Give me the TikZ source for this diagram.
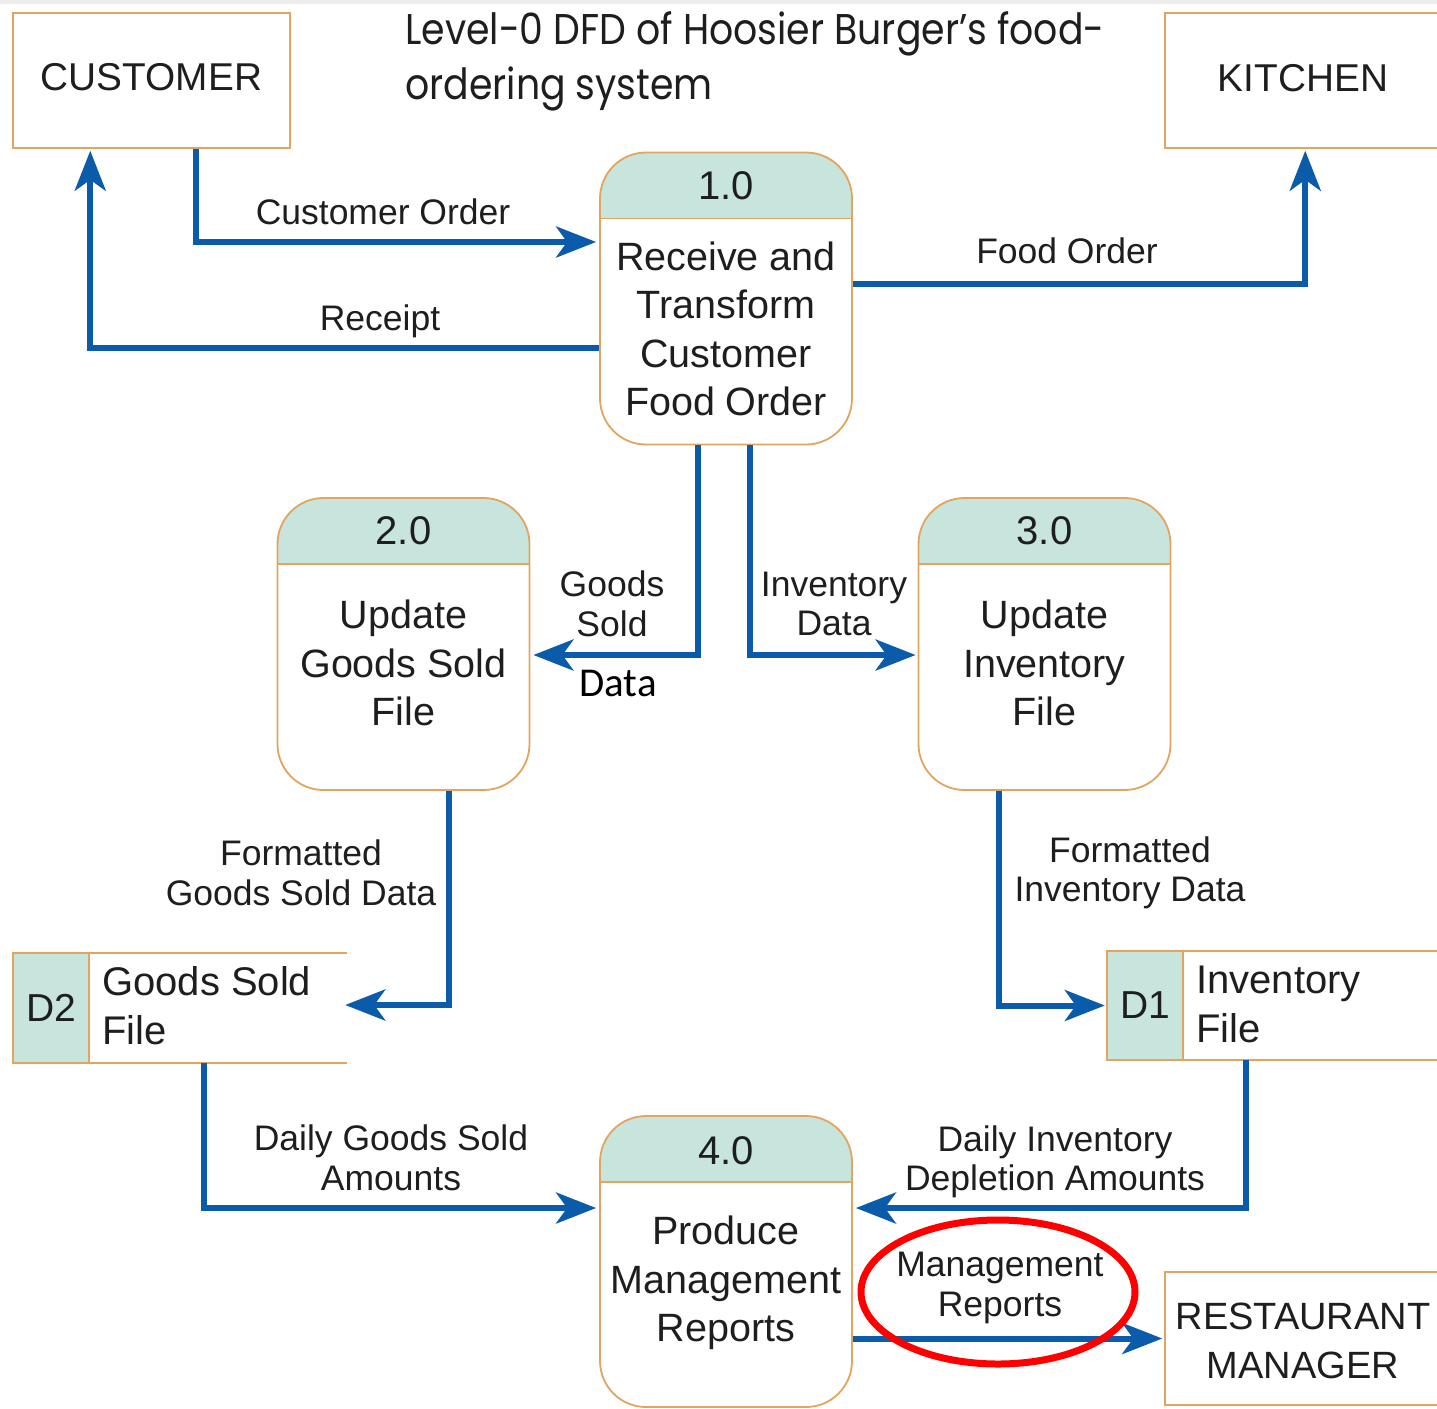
\documentclass[tikz,border=0pt]{standalone}
\usepackage{fontspec}
\setmainfont{Liberation Sans}
\newfontfamily\titlefont[FakeStretch=0.88]{Poppins}
\newfontfamily\calfont{Carlito}
\usetikzlibrary{arrows.meta}
\definecolor{fblue}{HTML}{0A5CAB}
\definecolor{obox}{HTML}{E2A45E}
\definecolor{hdr}{HTML}{C8E5DD}
\definecolor{txt}{HTML}{1E1E1E}
\definecolor{ered}{HTML}{FF0000}
\begin{document}
\begin{tikzpicture}[x=1pt,y=-1pt,
  ext/.style={draw=obox, line width=1.5pt, inner sep=0pt, text=txt, align=center,
    font=\fontsize{38}{49}\selectfont},
  proc/.style={draw=obox, line width=1.8pt, rounded corners=46pt, minimum width=252pt,
    minimum height=292pt, inner sep=0pt,
    path picture={\fill[hdr, sharp corners] (path picture bounding box.north west) rectangle
      ([yshift=-66pt]path picture bounding box.north east);
      \draw[obox, line width=1.8pt, sharp corners] ([yshift=-66pt]path picture bounding box.north west)
      -- ([yshift=-66pt]path picture bounding box.north east);}},
  num/.style={inner sep=0pt, text=txt, font=\fontsize{40}{44}\selectfont},
  ptext/.style={inner sep=0pt, text=txt, align=center, font=\fontsize{39.5}{48.5}\selectfont},
  lab/.style={inner sep=0pt, text=txt, align=center, font=\fontsize{35.5}{39.5}\selectfont},
  storetext/.style={inner sep=0pt, text=txt, align=left, anchor=west, font=\fontsize{40}{49}\selectfont},
  storeid/.style={draw=obox, fill=hdr, line width=1.5pt, inner sep=0pt, text=txt,
    minimum width=76pt, minimum height=110pt, font=\fontsize{39}{46}\selectfont},
  flow/.style={draw=fblue, line width=6pt, -{Stealth[length=40pt,width=31pt,inset=11pt]}}
]
\useasboundingbox (0,0) rectangle (1437,1408);
\fill[black!7] (0,0) rectangle (1437,4);

% title
\node[inner sep=0pt, anchor=north west, align=left, text=txt,
  font=\titlefont\fontsize{43}{55}\selectfont] (title) at (405,11)
  {Level-0 DFD of Hoosier Burger’s food-\\ordering system};

% external entities
\node[ext, minimum width=277pt, minimum height=135pt] (cust) at (151.5,80.5) {};
\node[ext, minimum width=275pt, minimum height=135pt] (kitchen) at (1302.5,80.5) {};
\node[ext, minimum width=275pt, minimum height=133pt] (mgr) at (1302.5,1338.5) {};
\node[inner sep=0pt, text=txt, font=\fontsize{38.8}{46}\selectfont] (custt) at (151.5,77) {CUSTOMER};
\node[inner sep=0pt, text=txt, font=\fontsize{38.8}{46}\selectfont] (kitt) at (1303,78) {KITCHEN};
\node[inner sep=0pt, text=txt, align=center, font=\fontsize{38}{49}\selectfont] (mgrt) at (1303,1341) {RESTAURANT\\MANAGER};

% processes
\node[proc] (p1) at (726,298.5) {};
\node[proc] (p2) at (403.5,644) {};
\node[proc] (p3) at (1044.5,644) {};
\node[proc, minimum height=291pt] (p4) at (726,1261.5) {};
\node[num] (p1n) at (726,186) {1.0};
\node[num] (p2n) at (403.5,531) {2.0};
\node[num] (p3n) at (1044.5,531) {3.0};
\node[num] (p4n) at (726,1151) {4.0};
\node[ptext] (p1t) at (726,329) {Receive and\\Transform\\Customer\\Food Order};
\node[ptext] (p2t) at (403.5,663) {Update\\Goods Sold\\File};
\node[ptext] (p3t) at (1044.5,663) {Update\\Inventory\\File};
\node[ptext] (p4t) at (726,1283) {Produce\\Management\\Reports};

% data stores
\node[inner sep=0pt, minimum width=334pt, minimum height=110pt] (d2) at (180,1008) {};
\draw[obox, line width=1.5pt] (d2.north east) -- (d2.north west) -- (d2.south west) -- (d2.south east);
\node[storeid] (d2id) at (51,1008) {D2};
\node[storetext] (d2t) at (102,1006) {Goods Sold\\File};
\node[inner sep=0pt, minimum width=333pt, minimum height=109pt] (d1) at (1273.5,1005.5) {};
\draw[obox, line width=1.5pt] (d1.north east) -- (d1.north west) -- (d1.south west) -- (d1.south east);
\node[storeid, minimum height=109pt] (d1id) at (1145,1005.5) {D1};
\node[storetext] (d1t) at (1196,1004) {Inventory\\File};

% flows
\draw[flow, shorten >=3pt] ([xshift=184pt]cust.south west) |- ([yshift=56.5pt]p1.west);
\draw[flow, shorten >=2pt] ([yshift=-49.5pt]p1.west) -| ([xshift=78pt]cust.south west);
\draw[flow, shorten >=2pt] ([yshift=14.5pt]p1.east) -| ([xshift=141pt]kitchen.south west);
\draw[flow, shorten >=3pt] ([xshift=-28pt]p1.south) |- ([yshift=-11pt]p2.east);
\draw[flow, shorten >=2pt] ([xshift=24pt]p1.south) |- ([yshift=-11pt]p3.west);
\draw[flow, shorten >=-2pt] ([xshift=172pt]p2.south west) |- ([yshift=3pt]d2.east);
\draw[flow, shorten >=2pt] ([xshift=-45.5pt]p3.south) |- (d1.west);
\draw[flow, shorten >=3pt] ([xshift=191pt]d2.south west) |- ([yshift=53.5pt]p4.west);
\draw[flow, shorten >=3pt] ([xshift=139pt]d1.south west) |- ([yshift=53.5pt]p4.east);
\draw[flow, shorten >=2pt] (p4.east |- mgr.west) -- (mgr.west);

% flow labels
\node[lab] (l1) at (383,212) {Customer Order};
\node[lab] (l2) at (380,321) {Receipt};
\node[lab] (l3) at (1067,251) {Food Order};
\node[lab] (l4) at (612,604) {Goods\\Sold};
\node[inner sep=0pt, text=black, font=\calfont\fontsize{41}{44}\selectfont] (l4b) at (618,683) {Data};
\node[lab] (l5) at (834,604) {Inventory\\Data};
\node[lab] (l6) at (301,873) {Formatted\\Goods Sold Data};
\node[lab] (l7) at (1130,873) {Formatted\\Inventory Data};
\node[lab] (l8) at (391,1158) {Daily Goods Sold\\Amounts};
\node[lab] (l9) at (1055,1162) {Daily Inventory\\Depletion Amounts};
\node[lab] (l10) at (1000,1288) {Management\\Reports};

% highlight
\draw[ered, line width=7pt] (998,1292) ellipse [x radius=137pt, y radius=72pt];
\end{tikzpicture}
\end{document}
